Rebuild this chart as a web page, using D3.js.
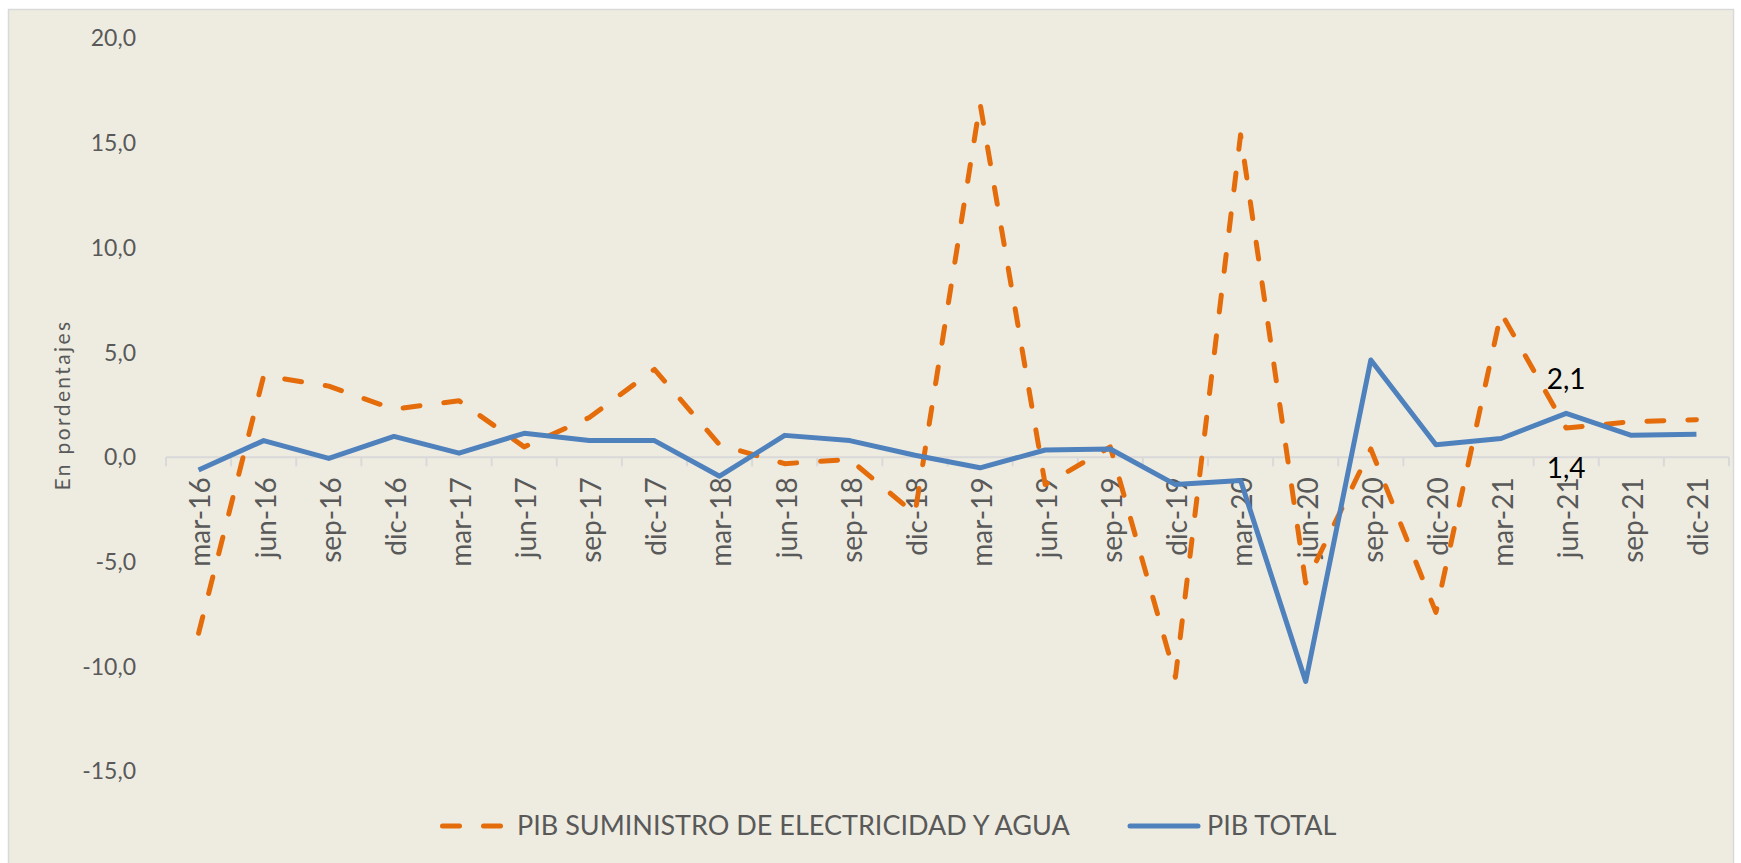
<!DOCTYPE html>
<html>
<head>
<meta charset="utf-8">
<script src="https://cdn.jsdelivr.net/npm/d3@7"></script>
<style>
  html, body { margin: 0; padding: 0; background: #ffffff; }
  svg { display: block; font-family: Lato, "Open Sans", sans-serif; }
</style>
</head>
<body>
<div class="figure__graphic"></div>
<script>
const categories = [
  "mar-16", "jun-16", "sep-16", "dic-16",
  "mar-17", "jun-17", "sep-17", "dic-17",
  "mar-18", "jun-18", "sep-18", "dic-18",
  "mar-19", "jun-19", "sep-19", "dic-19",
  "mar-20", "jun-20", "sep-20", "dic-20",
  "mar-21", "jun-21", "sep-21", "dic-21",
];

// PIB suministro de electricidad y agua (orange, dashed)
const electricidad = [
  -8.4, 3.9, 3.4, 2.3,
  2.7, 0.5, 1.9, 4.2,
  0.6, -0.3, -0.1, -2.7,
  16.9, -1.3, 0.5, -10.5,
  15.4, -6.0, 0.4, -7.4,
  6.9, 1.4, 1.7, 1.8,
];

// PIB total (blue)
const total = [
  -0.6, 0.8, -0.05, 1.0,
  0.2, 1.15, 0.8, 0.8,
  -0.9, 1.05, 0.8, 0.1,
  -0.5, 0.35, 0.4, -1.3,
  -1.1, -10.7, 4.65, 0.6,
  0.9, 2.1, 1.05, 1.1,
];

const yTicks = [20, 15, 10, 5, 0, -5, -10, -15];
const seriesNames = ["PIB SUMINISTRO DE ELECTRICIDAD Y AGUA", "PIB TOTAL"];
// only jun-21 carries data labels in the original
const labelled = ["jun-21"];

class GdpChart {
  width = 1741;
  height = 863;
  colors = { orange: "#E46C0A", blue: "#4F81BD", text: "#595959", axis: "#D9D9D9" };

  xScale = d3.scaleBand().domain(categories).range([166, 1729]).padding(0);
  yScale = d3.scaleLinear().domain([-15, 20]).range([771.5, 38.5]);

  locale = d3.formatLocale({
    decimal: ",", thousands: ".", grouping: [3], currency: ["", ""], minus: "-",
  });

  constructor() {
    this.chart = this.chart.bind(this);
    this.draw = this.draw.bind(this);
  }

  cx(c) {
    return this.xScale(c) + this.xScale.bandwidth() / 2;
  }

  chart(el) {
    const fmt = this.locale.format(".1f");
    const svg = el.append("svg")
      .attr("width", this.width)
      .attr("height", this.height);

    svg.append("rect")
      .attr("x", 8.5).attr("y", 9.5)
      .attr("width", 1725).attr("height", 870)
      .attr("fill", "#EEECE1")
      .attr("stroke", this.colors.axis)
      .attr("stroke-width", 1.5);

    // y axis: labels only
    const yAxis = svg.append("g")
      .attr("transform", "translate(136,0)")
      .call(d3.axisLeft(this.yScale).tickValues(yTicks).tickSize(0).tickPadding(0).tickFormat(fmt));
    yAxis.select(".domain").remove();
    yAxis.selectAll("text")
      .attr("font-family", "Lato, sans-serif")
      .attr("font-size", 23)
      .attr("fill", this.colors.text);

    svg.append("text")
      .attr("transform", `translate(70,${405}) rotate(-90)`)
      .attr("text-anchor", "middle")
      .attr("font-size", 21)
      .attr("letter-spacing", 2.4)
      .attr("fill", this.colors.text)
      .text("En pordentajes");

    // category axis at zero
    const y0 = this.yScale(0);
    const x0 = this.xScale.range()[0];
    const x1 = this.xScale.range()[1];
    svg.append("line")
      .attr("x1", x0).attr("x2", x1)
      .attr("y1", y0).attr("y2", y0)
      .attr("stroke", this.colors.axis)
      .attr("stroke-width", 2);
    const bounds = categories.map((c) => this.xScale(c)).concat([x1]);
    svg.append("g")
      .selectAll("line")
      .data(bounds)
      .join("line")
      .attr("x1", (d) => d).attr("x2", (d) => d)
      .attr("y1", y0).attr("y2", y0 + 9)
      .attr("stroke", this.colors.axis)
      .attr("stroke-width", 2);

    svg.append("g")
      .selectAll("text")
      .data(categories)
      .join("text")
      .attr("transform", (d) => `translate(${this.cx(d) + 2},${y0 + 20}) rotate(-90)`)
      .attr("text-anchor", "end")
      .attr("dy", "0.35em")
      .attr("font-size", 28)
      .attr("fill", this.colors.text)
      .text((d) => d);

    const line = (vals) => d3.line()
      .x((_, i) => this.cx(categories[i]))
      .y((d) => this.yScale(d))(vals);

    svg.append("path")
      .attr("d", line(electricidad))
      .attr("fill", "none")
      .attr("stroke", this.colors.orange)
      .attr("stroke-width", 5)
      .attr("stroke-linecap", "round")
      .attr("stroke-linejoin", "round")
      .attr("stroke-dasharray", "17,24");

    svg.append("path")
      .attr("d", line(total))
      .attr("fill", "none")
      .attr("stroke", this.colors.blue)
      .attr("stroke-width", 5)
      .attr("stroke-linejoin", "round");

    // data labels
    labelled.forEach((c) => {
      const i = categories.indexOf(c);
      svg.append("text")
        .attr("x", this.cx(c)).attr("y", this.yScale(total[i]) - 34)
        .attr("text-anchor", "middle").attr("dy", "0.35em")
        .attr("font-size", 28).attr("fill", "#000")
        .text(fmt(total[i]));
      svg.append("text")
        .attr("x", this.cx(c)).attr("y", this.yScale(electricidad[i]) + 40)
        .attr("text-anchor", "middle").attr("dy", "0.35em")
        .attr("font-size", 28).attr("fill", "#000")
        .text(fmt(electricidad[i]));
    });

    // legend
    const ly = 826;
    const legend = svg.append("g");
    legend.append("line")
      .attr("x1", 442.5).attr("x2", 500.5).attr("y1", ly).attr("y2", ly)
      .attr("stroke", this.colors.orange).attr("stroke-width", 5)
      .attr("stroke-linecap", "round").attr("stroke-dasharray", "17,24");
    legend.append("text")
      .attr("x", 517).attr("y", ly).attr("dy", "0.35em")
      .attr("font-size", 27).attr("fill", this.colors.text)
      .text(seriesNames[0]);
    legend.append("line")
      .attr("x1", 1130).attr("x2", 1198).attr("y1", ly).attr("y2", ly)
      .attr("stroke", this.colors.blue).attr("stroke-width", 5)
      .attr("stroke-linecap", "round");
    legend.append("text")
      .attr("x", 1207).attr("y", ly).attr("dy", "0.35em")
      .attr("font-size", 27).attr("fill", this.colors.text)
      .text(seriesNames[1]);
  }

  draw(selection) {
    const chart = this.chart;
    selection.each(function () {
      chart(d3.select(this));
    });
  }
}

const gdp = new GdpChart();
d3.select(".figure__graphic").call(gdp.draw);
</script>
</body>
</html>
